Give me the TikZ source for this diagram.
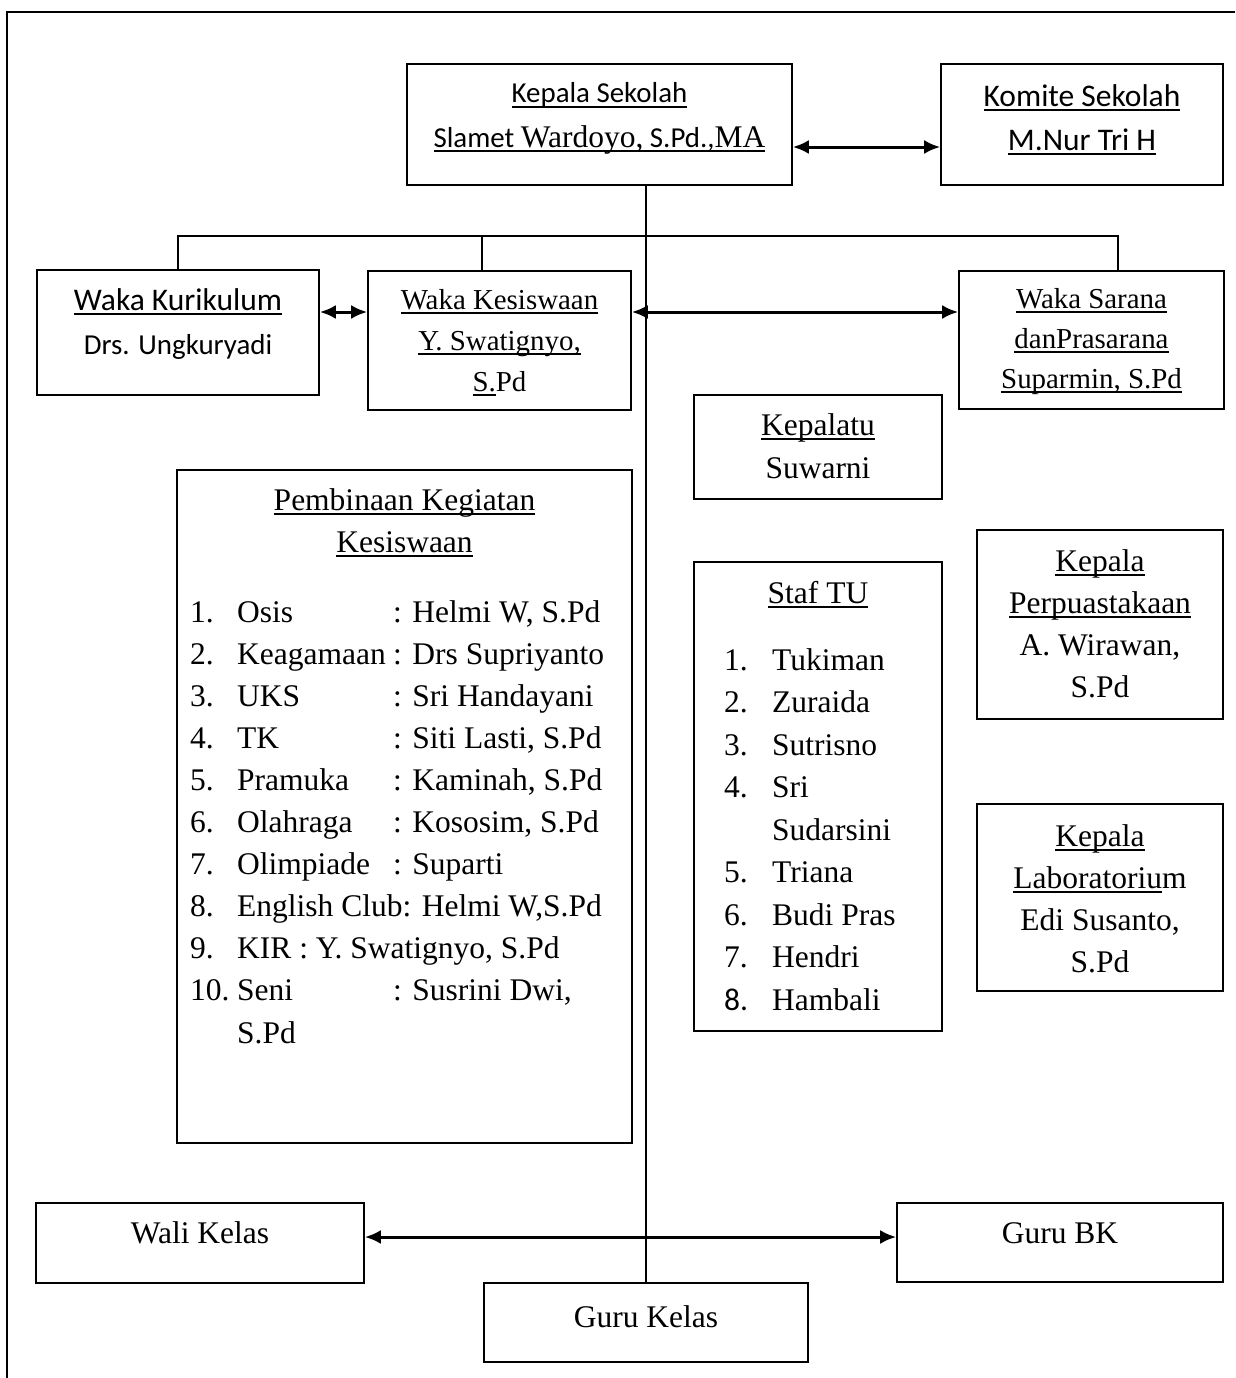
\documentclass[tikz,border=0pt]{standalone}
\usepackage{fontspec}
\setmainfont{Liberation Serif}
\newfontfamily\calibri{Carlito}
\usetikzlibrary{arrows.meta,positioning}
\newcommand{\uln}[1]{\setbox0\hbox{#1}\rlap{\rule[-5pt]{\wd0}{2pt}}\box0}

\begin{document}
\begin{tikzpicture}[x=1pt,y=-1pt]
    %styles
    \tikzstyle{orgbox}=[rectangle,draw,line width=1.6pt,inner sep=0pt]
    \tikzstyle{tmsL}=[align=center,anchor=base,inner sep=0pt,font=\fontsize{31.5}{42}\selectfont]
    \tikzstyle{tmsS}=[align=center,anchor=base,inner sep=0pt,font=\fontsize{28.9}{41}\selectfont]
    \tikzstyle{calL}=[align=center,anchor=base,inner sep=0pt,font=\calibri\fontsize{31.5}{44}\selectfont]
    \tikzstyle{calS}=[align=center,anchor=base,inner sep=0pt,font=\calibri\fontsize{28.9}{44}\selectfont]
    \tikzstyle{itemlist}=[align=left,anchor=base west,inner sep=0pt,font=\fontsize{31.5}{42.1}\selectfont]
    \tikzstyle{conn}=[line width=1.2pt]
    \tikzstyle{commu}=[<->,>={Latex[length=16pt,width=14pt]},line width=3pt]
    \useasboundingbox (0,0) rectangle (1235,1378);
    %frame
    \draw[line width=1.6pt] (1235,12) -- (7,12) -- (7,1378);
    %boxes
    \node[orgbox,minimum width=385,minimum height=121] (kepsek) at (599.5,124.5) {};
    \node[orgbox,minimum width=282,minimum height=121] (komite) at (1082,124.5) {};
    \node[orgbox,minimum width=282,minimum height=125] (wakakur) at (178,332.5) {};
    \node[orgbox,minimum width=263,minimum height=139] (wakakes) at (499.5,340.5) {};
    \node[orgbox,minimum width=265,minimum height=138] (wakasar) at (1091.5,340) {};
    \node[orgbox,minimum width=248,minimum height=104] (kepalatu) at (818,447) {};
    \node[orgbox,minimum width=455,minimum height=673] (pembinaan) at (404.5,806.5) {};
    \node[orgbox,minimum width=248,minimum height=469] (staftu) at (818,796.5) {};
    \node[orgbox,minimum width=246,minimum height=189] (perpus) at (1100,624.5) {};
    \node[orgbox,minimum width=246,minimum height=187] (lab) at (1100,897.5) {};
    \node[orgbox,minimum width=328,minimum height=80] (wali) at (200,1243) {};
    \node[orgbox,minimum width=326,minimum height=79] (gurubk) at (1060,1242.5) {};
    \node[orgbox,minimum width=324,minimum height=79] (gurukelas) at (646,1322.5) {};
    %texts (placed at the baseline of their last line)
    \node[calS] (kepsekT) at (599.5,147) {\uln{Kepala Sekolah}\\\uln{Slamet {\rmfamily\fontsize{31.5}{44}\selectfont Wardoyo,} S.Pd.,{\rmfamily\fontsize{31.5}{44}\selectfont MA}}};
    \node[calL] (komiteT) at (1082,150) {\uln{Komite Sekolah}\\\uln{M.Nur Tri H}};
    \node[calL] (wakakurT) at (178,354) {\uln{Waka Kurikulum}\\{\fontsize{28.9}{43}\selectfont Drs. Ungkuryadi}};
    \node[tmsS] (wakakesT) at (499.5,391) {\uln{Waka Kesiswaan}\\\uln{Y. Swatignyo,}\\\uln{S.}Pd};
    \node[tmsS,font=\fontsize{28.9}{40}\selectfont] (wakasarT) at (1091.5,388) {\uln{Waka Sarana}\\\uln{danPrasarana}\\\uln{Suparmin, S.Pd}};
    \node[tmsL,font=\fontsize{31.5}{43}\selectfont] (kepalatuT) at (818,478) {\uln{Kepalatu}\\Suwarni};
    \node[tmsL] (pembT) at (404.5,552) {\uln{Pembinaan Kegiatan}\\\uln{Kesiswaan}};
    \node[itemlist] (pembL) at (190,1043) {%
        \makebox[47pt][l]{1.}\makebox[156pt][l]{Osis}: Helmi W, S.Pd\\
        \makebox[47pt][l]{2.}\makebox[156pt][l]{Keagamaan}: Drs Supriyanto\\
        \makebox[47pt][l]{3.}\makebox[156pt][l]{UKS}: Sri Handayani\\
        \makebox[47pt][l]{4.}\makebox[156pt][l]{TK}: Siti Lasti, S.Pd\\
        \makebox[47pt][l]{5.}\makebox[156pt][l]{Pramuka}: Kaminah, S.Pd\\
        \makebox[47pt][l]{6.}\makebox[156pt][l]{Olahraga}: Kososim, S.Pd\\
        \makebox[47pt][l]{7.}\makebox[156pt][l]{Olimpiade}: Suparti\\
        \makebox[47pt][l]{8.}English Club: Helmi W,S.Pd\\
        \makebox[47pt][l]{9.}KIR : Y. Swatignyo, S.Pd\\
        \makebox[47pt][l]{10.}\makebox[156pt][l]{Seni}: Susrini Dwi,\\
        \hspace*{47pt}S.Pd};
    \node[tmsL] (stafT) at (818,603) {\uln{Staf TU}};
    \node[itemlist,font=\fontsize{31.5}{42.5}\selectfont] (stafL) at (724,1010) {%
        \makebox[48pt][l]{1.}Tukiman\\
        \makebox[48pt][l]{2.}Zuraida\\
        \makebox[48pt][l]{3.}Sutrisno\\
        \makebox[48pt][l]{4.}Sri\\
        \hspace*{48pt}Sudarsini\\
        \makebox[48pt][l]{5.}Triana\\
        \makebox[48pt][l]{6.}Budi Pras\\
        \makebox[48pt][l]{7.}Hendri\\
        \makebox[48pt][l]{\calibri 8.}Hambali};
    \node[tmsL] (perpusT) at (1100,697) {\uln{Kepala}\\\uln{Perpuastakaan}\\A. Wirawan,\\S.Pd};
    \node[tmsL] (labT) at (1100,972) {\uln{Kepala}\\\uln{Laboratoriu}m\\Edi Susanto,\\S.Pd};
    \node[tmsL] (waliT) at (200,1243) {Wali Kelas};
    \node[tmsL] (gurubkT) at (1060,1243) {Guru BK};
    \node[tmsL] (gurukelasT) at (646,1327) {Guru Kelas};
    %lines
    \coordinate (bus) at (645,236);
    \coordinate (kesdrop) at (482,236);
    \coordinate (sardrop) at (1118,236);
    \coordinate (lvltwo) at (0,312);
    \coordinate (lvlfour) at (0,1237);
    \draw[conn] (gurukelas.north) -- (gurukelas.north |- kepsek.south);
    \draw[conn] (wakakur.north) |- (sardrop) -- (sardrop |- wakasar.north);
    \draw[conn] (kesdrop) -- (kesdrop |- wakakes.north);
    %arrows
    \draw[commu] ([yshift=-22.5pt]kepsek.east) -- ([yshift=-22.5pt]komite.west);
    \draw[commu] (wakakur.east |- lvltwo) -- (wakakes.west |- lvltwo);
    \draw[commu] (wakakes.east |- lvltwo) -- (wakasar.west |- lvltwo);
    \draw[commu] (wali.east |- lvlfour) -- (gurubk.west |- lvlfour);
\end{tikzpicture}
\end{document}
